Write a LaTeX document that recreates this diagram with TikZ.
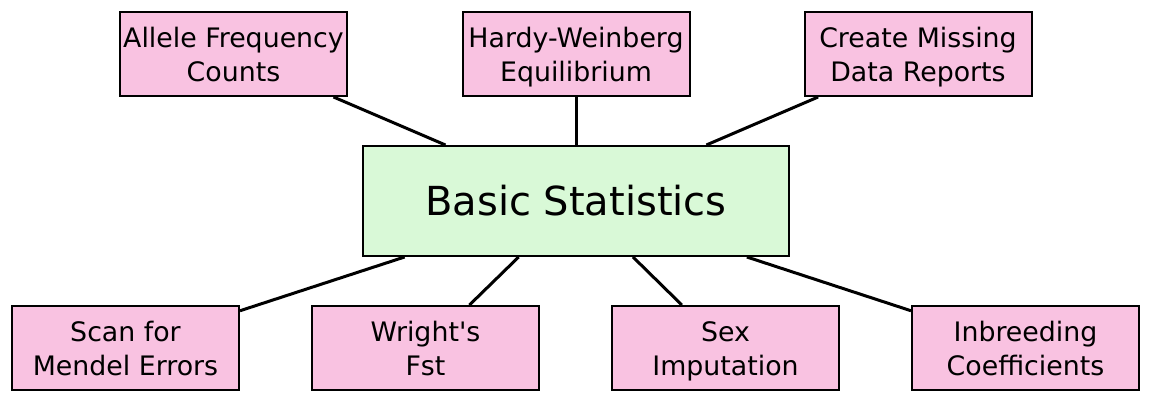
\documentclass[tikz,border=0pt]{standalone}
\usepackage{fontspec}
\setmainfont{DejaVu Sans}[Ligatures=TeXOff]
\definecolor{leafpink}{RGB}{249,194,225}
\definecolor{rootgreen}{RGB}{217,249,215}
\newcommand\twolines[2]{\rule{0pt}{28pt}#1\\#2\rule[-6.3pt]{0pt}{6.3pt}}
\begin{document}
\begin{tikzpicture}[x=1pt,y=-1pt,
  leaf/.style={draw=black, line width=2pt, fill=leafpink, minimum width=227pt, minimum height=84pt, inner sep=0pt, align=center, font=\fontsize{26.8}{34.3}\selectfont},
  root/.style={draw=black, line width=2pt, fill=rootgreen, minimum width=426pt, minimum height=110pt, inner sep=0pt, align=center, font=\fontsize{40}{48}\selectfont},
  link/.style={line width=3pt, black}]
\useasboundingbox (0,0) rectangle (1152,403);
\node[root] (basic) at (576,201) {Basic Statistics};
\node[leaf] (allele) at (233.5,54) {\twolines{Allele Frequency}{Counts}};
\node[leaf] (hardy) at (576,54) {\twolines{Hardy-Weinberg}{Equilibrium}};
\node[leaf] (missing) at (918,54) {\twolines{Create Missing}{Data Reports}};
\node[leaf] (scan) at (125.5,348) {\twolines{Scan for}{Mendel Errors}};
\node[leaf] (wright) at (425.5,348) {\twolines{Wright's}{Fst}};
\node[leaf] (sex) at (725.5,348) {\twolines{Sex}{Imputation}};
\node[leaf] (inbreed) at (1025.5,348) {\twolines{Inbreeding}{Coefficients}};
\foreach \n in {allele,hardy,missing,scan,wright,sex,inbreed}
  \draw[link] (basic) -- (\n);
\end{tikzpicture}
\end{document}
